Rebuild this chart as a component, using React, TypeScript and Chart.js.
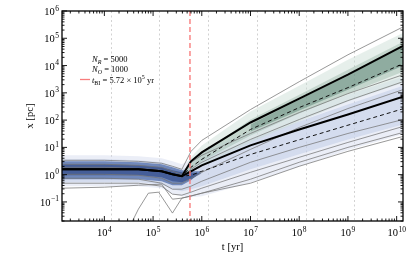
import React, { useEffect, useRef } from "react";
import { Chart, registerables } from "chart.js";

Chart.register(...registerables);

// ---- time grid (yr) ----
const tGrid = [1.35e3, 1e4, 5e4, 1.5e5, 2.5e5, 3.9e5, 6e5, 1e6, 1e7, 1e8, 1e9, 1.35e10];
const tLow = [3.6e4, 5e4, 8e4, 1.3e5, 2.5e5, 3.9e5, 1e6, 1e7, 1e8, 1e9, 1.35e10];
const tCore = [1.35e3, 1e4, 5e4, 1.5e5, 2.5e5, 3.9e5, 6e5, 1e6];
const tGreen = [3.9e5, 6e5, 1e6, 1e7, 1e8, 1e9, 1.35e10];
const tGreenCore = [1e7, 1e8, 1e9, 1.35e10];

// ---- medians / means (pc) ----
const greenMedian = [1.57, 1.57, 1.57, 1.33, 1.03, 0.875, 3.08, 6.57, 81.7, 614, 4610, 52800];
const blueMedian = [1.57, 1.57, 1.57, 1.33, 1.03, 0.875, 1.33, 2.2, 11.8, 45.4, 160, 726];
const greenMean = [null, null, null, null, 1.03, 0.875, 1.86, 3.65, 45.4, 288, 1550, 11600];
const blueMean = [null, null, null, null, 1.03, 0.875, 0.95, 1.33, 5.5, 19, 65, 260];

// ---- percentile envelopes (pc) ----
const thinA = [3.36, 3.36, 3.08, 2.61, 2.03, 1.57, 7.14, 18.0, 244, 2560, 24800, 261000];
const thinB = [2.4, 2.4, 2.2, 1.86, 1.33, 1.03, 2.84, 5.11, 32.4, 189, 935, 4610];
const thinC = [1.86, 1.86, 1.71, 1.45, 1.03, 0.8, 1.57, 2.84, 19.6, 105, 519, 2560];
const thinD = [1.03, 1.03, 0.95, 0.74, 0.485, 0.485, 0.74, 1.22, 8.45, 53.7, 265, 1310];
const thinE = [0.74, 0.74, 0.68, 0.485, 0.293, 0.293, 0.378, 0.574, 2.84, 10, 32.4, 105];
const thinF = [0.485, 0.485, 0.485, 0.378, 0.193, 0.177, 0.228, 0.319, 1.22, 4.32, 15.2, 58.3];
const thinG = [0.319, 0.347, 0.41, 0.447, 0.126, 0.138, 0.163, 0.209, 0.68, 2.84, 10, 35.3];
const thinLow = [0.0168, 0.0546, 0.209, 0.228, 0.039, 0.138, 0.209, 0.485, 2.03, 7.14, 25.2];

// ---- density bands (pc) ----
const blueOuterHi = [5.11, 5.11, 4.7, 3.97, 3.08, 2.4, 3.65, 7.14, 38.4, 189, 859, 3900];
const blueOuterLo = [0.378, 0.378, 0.378, 0.319, 0.193, 0.163, 0.15, 0.163, 0.5, 2.0, 8.0, 30];
const blueMidHi = [3.65, 3.65, 3.36, 2.84, 2.03, 1.57, 2.03, 3.65, 19.6, 88.9, 371, 1830];
const blueMidLo = [0.528, 0.528, 0.528, 0.447, 0.293, 0.248, 0.293, 0.378, 1.57, 5.56, 19.6, 69.1];
const blueCoreHi = [3.08, 3.08, 2.84, 2.4, 1.86, 1.45, 1.33, 1.33];
const blueCoreLo = [0.68, 0.68, 0.68, 0.574, 0.41, 0.41, 0.625, 1.33];
const blueInnerHi = [2.4, 2.4, 2.2, 1.86, 1.45, 1.22, 1.12, 1.12];
const blueInnerLo = [0.95, 0.95, 0.95, 0.8, 0.574, 0.528, 0.68, 1.12];
const greenOuterHi = [0.95, 4.32, 11.8, 206, 1830, 16300, 157000];
const greenOuterLo = [0.95, 1.33, 2.2, 15.2, 88.9, 478, 2360];
const greenMidHi = [0.875, 2.61, 6.04, 105, 859, 7030, 73900];
const greenMidLo = [0.875, 1.57, 3.08, 27.4, 174, 935, 5940];
const greenCoreHi = [69.1, 565, 4250, 52800];
const greenCoreLo = [38.4, 224, 1310, 9840];

// ---- axes / annotations ----
const xMin = 1.35e3;
const xMax = 1.35e10;
const yMin = 0.02;
const yMax = 1e6;
const xMajorExp = [4, 5, 6, 7, 8, 9, 10];
const yMajorExp = [-1, 0, 1, 2, 3, 4, 5, 6];
const xGridLines = [1.35e4, 1.35e5, 1.35e6, 1.35e7, 1.35e8, 1.35e9];
const tBI = 5.72e5;
const NR = 5000;
const NO = 1000;

const SERIF = '"Liberation Serif", "DejaVu Serif", serif';
const RED = "rgb(248,125,125)";

function pts(ts: number[], ys: (number | null)[]) {
  return ts.map((t, i) => ({ x: t, y: ys[i] }));
}

function lineDs(ts: number[], ys: (number | null)[], color: string, width: number, dash: number[], order: number) {
  return {
    data: pts(ts, ys),
    borderColor: color,
    borderWidth: width,
    borderDash: dash,
    pointRadius: 0,
    fill: false,
    tension: 0,
    order,
    clip: 0,
  };
}

function bandDs(ts: number[], hi: number[], lo: number[], color: string, order: number) {
  return [
    { data: pts(ts, hi), borderColor: "transparent", borderWidth: 0, pointRadius: 0, fill: "+1", backgroundColor: color, order, clip: 0, tension: 0 },
    { data: pts(ts, lo), borderColor: "transparent", borderWidth: 0, pointRadius: 0, fill: false, order, clip: 0, tension: 0 },
  ];
}

function drawRuns(ctx: CanvasRenderingContext2D, x: number, y: number, runs: [string, string, number][]) {
  let cx = x;
  ctx.textAlign = "left";
  ctx.textBaseline = "alphabetic";
  for (const [t, f, dy] of runs) {
    ctx.font = f;
    ctx.fillText(t, cx, y + dy);
    cx += ctx.measureText(t).width;
  }
}

function drawPow(ctx: CanvasRenderingContext2D, exp: number, x: number, y: number, align: "center" | "right") {
  const base = "10";
  const sup = exp < 0 ? "\u2212" + -exp : String(exp);
  const bf = `10.5px ${SERIF}`;
  const sf = `7.5px ${SERIF}`;
  ctx.font = bf;
  const wb = ctx.measureText(base).width;
  ctx.font = sf;
  const ws = ctx.measureText(sup).width;
  const w = wb + ws + 0.5;
  const x0 = align === "center" ? x - w / 2 : x - w;
  ctx.textAlign = "left";
  ctx.textBaseline = "alphabetic";
  ctx.font = bf;
  ctx.fillText(base, x0, y);
  ctx.font = sf;
  ctx.fillText(sup, x0 + wb + 0.5, y - 4.5);
}

const decorPlugin = {
  id: "decor",
  beforeDatasetsDraw(chart: any) {
    const { ctx, chartArea: a } = chart;
    const xs = chart.scales.x;
    ctx.save();
    ctx.strokeStyle = "#d2d2d2";
    ctx.lineWidth = 1;
    ctx.setLineDash([2, 2.5]);
    xGridLines.forEach((v) => {
      const p = Math.round(xs.getPixelForValue(v)) + 0.5;
      ctx.beginPath();
      ctx.moveTo(p, a.top);
      ctx.lineTo(p, a.bottom);
      ctx.stroke();
    });
    ctx.restore();
  },
  afterDatasetsDraw(chart: any) {
    const { ctx, chartArea: a } = chart;
    const xs = chart.scales.x;
    const ys = chart.scales.y;
    ctx.save();
    // t_BI line
    ctx.strokeStyle = RED;
    ctx.lineWidth = 1.4;
    ctx.setLineDash([5, 3]);
    const pr = xs.getPixelForValue(tBI);
    ctx.beginPath();
    ctx.moveTo(pr, a.top);
    ctx.lineTo(pr, a.bottom);
    ctx.stroke();
    ctx.setLineDash([]);

    // frame
    ctx.strokeStyle = "#000";
    ctx.lineWidth = 1.3;
    ctx.strokeRect(a.left, a.top, a.right - a.left, a.bottom - a.top);

    // inward ticks
    ctx.lineWidth = 0.9;
    for (let e = Math.floor(Math.log10(xMin)); e <= Math.ceil(Math.log10(xMax)); e++) {
      for (let m = 1; m <= 9; m++) {
        const v = m * Math.pow(10, e);
        if (v < xMin || v > xMax) continue;
        const p = xs.getPixelForValue(v);
        const L = m === 1 ? 5 : 2.5;
        ctx.beginPath();
        ctx.moveTo(p, a.bottom);
        ctx.lineTo(p, a.bottom - L);
        ctx.moveTo(p, a.top);
        ctx.lineTo(p, a.top + L);
        ctx.stroke();
      }
    }
    for (let e = Math.floor(Math.log10(yMin)); e <= Math.ceil(Math.log10(yMax)); e++) {
      for (let m = 1; m <= 9; m++) {
        const v = m * Math.pow(10, e);
        if (v < yMin || v > yMax * 1.0001) continue;
        const p = ys.getPixelForValue(v);
        const L = m === 1 ? 5 : 2.5;
        ctx.beginPath();
        ctx.moveTo(a.left, p);
        ctx.lineTo(a.left + L, p);
        ctx.moveTo(a.right, p);
        ctx.lineTo(a.right - L, p);
        ctx.stroke();
      }
    }

    // tick labels
    ctx.fillStyle = "#000";
    xMajorExp.forEach((e) => drawPow(ctx, e, xs.getPixelForValue(Math.pow(10, e)), a.bottom + 15, "center"));
    yMajorExp.forEach((e) => drawPow(ctx, e, a.left - 3, ys.getPixelForValue(Math.pow(10, e)) + 4, "right"));

    // axis titles
    ctx.font = `10.5px ${SERIF}`;
    ctx.textAlign = "center";
    ctx.textBaseline = "middle";
    ctx.fillText("t [yr]", (a.left + a.right) / 2, 247);
    ctx.save();
    ctx.translate(30, (a.top + a.bottom) / 2);
    ctx.rotate(-Math.PI / 2);
    ctx.fillText("x [pc]", 0, 0);
    ctx.restore();

    // legend
    const it = `italic 8.5px ${SERIF}`;
    const rm = `8.5px ${SERIF}`;
    const subI = `italic 6px ${SERIF}`;
    const sub = `6px ${SERIF}`;
    drawRuns(ctx, 92, 61.5, [["N", it, 0], ["R", subI, 2], [` = ${NR}`, rm, 0]]);
    drawRuns(ctx, 92, 72, [["N", it, 0], ["O", subI, 2], [` = ${NO}`, rm, 0]]);
    drawRuns(ctx, 92, 82.5, [["t", it, 0], ["BI", sub, 2], [" = 5.72 \u00d7 10", rm, 0], ["5", sub, -3.5], [" yr", rm, 0]]);
    ctx.strokeStyle = RED;
    ctx.lineWidth = 1.3;
    ctx.beginPath();
    ctx.moveTo(80, 79.5);
    ctx.lineTo(90, 79.5);
    ctx.stroke();
    ctx.restore();
  },
};

export default function App() {
  const ref = useRef<HTMLCanvasElement | null>(null);
  useEffect(() => {
    if (!ref.current) return;
    const thin = "#767676";
    const datasets: any[] = [
      lineDs(tGrid, greenMedian, "#000", 2, [], 2),
      lineDs(tGrid, blueMedian, "#000", 2, [], 2),
      lineDs(tGrid, greenMean, "#111", 1, [4, 3], 3),
      lineDs(tGrid, blueMean, "#111", 1, [4, 3], 3),
      lineDs(tGrid, thinA, thin, 0.75, [], 5),
      lineDs(tGrid, thinB, thin, 0.75, [], 5),
      lineDs(tGrid, thinC, thin, 0.75, [], 5),
      lineDs(tGrid, thinD, thin, 0.75, [], 5),
      lineDs(tGrid, thinE, thin, 0.75, [], 5),
      lineDs(tGrid, thinF, thin, 0.75, [], 5),
      lineDs(tGrid, thinG, thin, 0.75, [], 5),
      lineDs(tLow, thinLow, thin, 0.75, [], 5),
      ...bandDs(tGreenCore, greenCoreHi, greenCoreLo, "rgba(70,115,98,0.42)", 18),
      ...bandDs(tGreen, greenMidHi, greenMidLo, "rgba(135,170,152,0.35)", 19),
      ...bandDs(tGreen, greenOuterHi, greenOuterLo, "rgba(200,220,210,0.45)", 20),
      ...bandDs(tCore, blueInnerHi, blueInnerLo, "rgba(35,60,125,0.55)", 27),
      ...bandDs(tCore, blueCoreHi, blueCoreLo, "rgba(70,100,165,0.7)", 28),
      ...bandDs(tGrid, blueMidHi, blueMidLo, "rgba(170,185,222,0.35)", 29),
      ...bandDs(tGrid, blueOuterHi, blueOuterLo, "rgba(215,222,240,0.5)", 30),
    ];
    const chart = new Chart(ref.current, {
      type: "line",
      data: { datasets },
      options: {
        animation: false,
        responsive: false,
        maintainAspectRatio: false,
        devicePixelRatio: 1,
        layout: { padding: { top: 11, right: 12, left: 0, bottom: 0 } },
        plugins: { legend: { display: false }, tooltip: { enabled: false } },
        scales: {
          x: {
            type: "logarithmic",
            min: xMin,
            max: xMax,
            grid: { display: false, drawTicks: false },
            border: { display: false },
            ticks: { display: false },
            afterFit: (s: any) => {
              s.height = 43;
            },
          },
          y: {
            type: "logarithmic",
            min: yMin,
            max: yMax,
            grid: { display: false, drawTicks: false },
            border: { display: false },
            ticks: { display: false },
            afterFit: (s: any) => {
              s.width = 62;
            },
          },
        },
      } as any,
      plugins: [decorPlugin],
    });
    return () => chart.destroy();
  }, []);
  return (
    <div style={{ position: "fixed", left: 0, top: 0, width: 415, height: 264, background: "#fff" }}>
      <canvas ref={ref} width={415} height={264} style={{ display: "block" }} />
    </div>
  );
}
